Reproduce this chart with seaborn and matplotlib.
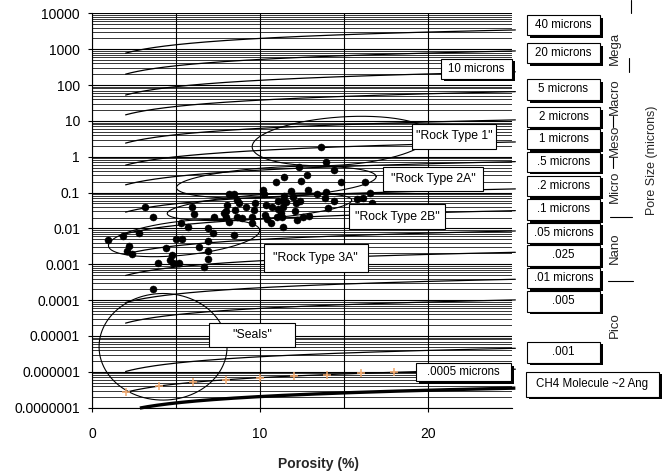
import numpy as np
import pandas as pd
import matplotlib
matplotlib.use("Agg")
import matplotlib.pyplot as plt
from matplotlib.patches import Rectangle
from matplotlib.lines import Line2D
from matplotlib.ticker import FixedLocator, FixedFormatter, LogLocator, NullFormatter
import seaborn as sns

# ---- measured samples: porosity (%) and permeability (md) ----
porosity = [0.97, 1.86, 2.82, 3.18, 3.65, 2.23, 2.07, 2.40, 4.38, 3.90,
            4.64, 4.76, 5.18, 4.84, 4.98, 5.35, 3.66, 5.30, 5.70, 5.98,
            6.09, 6.37, 6.88, 6.88, 6.67, 6.88, 6.92, 7.20, 8.47, 8.17,
            8.47, 8.65, 8.75, 8.02, 7.96, 8.51, 9.15, 9.70, 9.67, 7.28,
            7.96, 8.17, 8.65, 8.93, 9.54, 9.54, 7.88,
            12.35, 11.45, 10.93, 12.44, 10.20, 10.26, 11.83, 11.45, 11.95, 11.35,
            11.55, 11.05, 12.14, 10.36, 10.70, 11.05, 11.39, 11.25, 12.08, 10.30,
            10.40, 10.65, 10.99, 11.33, 11.35, 12.18, 12.58,
            13.63, 13.93, 14.42, 12.82, 14.80, 16.25, 12.88, 13.38, 13.91, 13.87,
            14.42, 12.38, 14.07, 15.76, 16.15, 16.55, 16.65, 12.92]
permeability = [0.00466, 0.00603, 0.00745, 0.0388, 0.0212, 0.00319, 0.00239, 0.00190, 0.00281, 0.00110,
                0.00131, 0.00181, 0.00112, 0.00108, 0.00500, 0.00500, 0.000204, 0.0146, 0.0113, 0.0388,
                0.0252, 0.00297, 0.00231, 0.00137, 0.00084, 0.00459, 0.0101, 0.00745, 0.00667, 0.0893,
                0.0893, 0.0620, 0.0521, 0.0450, 0.0312, 0.0337, 0.0388, 0.0521, 0.0337, 0.0204,
                0.0204, 0.0154, 0.0204, 0.0191, 0.0204, 0.0146, 0.0274,
                0.526, 0.266, 0.197, 0.210, 0.118, 0.0893, 0.110, 0.0817, 0.0766, 0.0593,
                0.0556, 0.0581, 0.0501, 0.0450, 0.0388, 0.0348, 0.0403, 0.0274, 0.0306, 0.0237,
                0.0179, 0.0139, 0.0204, 0.0204, 0.0111, 0.0171, 0.0204,
                1.83, 0.698, 0.426, 0.309, 0.201, 0.201, 0.118, 0.0912, 0.106, 0.0692,
                0.0593, 0.0593, 0.0378, 0.0649, 0.0692, 0.0991, 0.0521, 0.0222]

# ---- pore-throat size lines: permeability reached at 25 % porosity ----
pore_sizes = ["40", "20", "10", "5", "2", "1", ".5", ".2", ".1", ".05",
              ".025", ".01", ".005", ".001", ".0005"]
k_at_25 = [3420, 887, 232, 65.0, 10.6, 2.57, 0.726, 0.126, 0.0312, 0.00845,
           0.00215, 0.00038, 0.000101, 4.52e-6, 1.18e-6]
ch4_k_at_25 = 3.5e-7
porosity_exponent = 0.588
marker_porosity = [2, 4, 6, 8, 10, 12, 14, 16, 18]   # tagged points on the .0005 line

# ---- rock-type envelopes (centre porosity, centre permeability) ----
envelope_names = ['"Rock Type 1"', '"Rock Type 2A"', '"Rock Type 2B"', '"Rock Type 3A"', '"Seals"']
envelope_phi = [14.82, 10.97, 9.97, 5.48, 4.23]
envelope_k = [2.74, 0.195, 0.040, 0.0054, 5.0e-6]

# ---- y axis labels ----
y_ticks = [1e4, 1e3, 1e2, 1e1, 1, 1e-1, 1e-2, 1e-3, 1e-4, 1e-5, 1e-6, 1e-7]
y_tick_labels = ["10000", "1000", "100", "10", "1", "0.1", "0.01", "0.001",
                 "0.0001", "0.00001", "0.000001", "0.0000001"]
x_ticks = [0, 10, 20]

# right-hand scale boxes
scale_labels = ["40 microns", "20 microns", "5 microns", "2 microns", "1 microns",
                ".5 microns", ".2 microns", ".1 microns", ".05 microns", ".025",
                ".01 microns", ".005", ".001"]
class_labels = ["Mega", "Macro", "Meso", "Micro", "Nano", "Pico"]

sns.set_theme(style="white")
plt.rcParams["font.family"] = ["Liberation Sans", "DejaVu Sans"]

W, H = 666, 476
fig = plt.figure(figsize=(W / 100, H / 100), dpi=100)
ax_left, ax_right, ax_top, ax_bottom = 92, 512, 13.3, 407.7
ax = fig.add_axes([ax_left / W, 1 - ax_bottom / H, (ax_right - ax_left) / W, (ax_bottom - ax_top) / H])
ax.set_facecolor("white")

ax.set_yscale("log")
ax.set_xlim(0, 25)
ax.set_ylim(1e-7, 1e4)

# grid
ax.yaxis.set_major_locator(FixedLocator(y_ticks))
ax.yaxis.set_major_formatter(FixedFormatter(y_tick_labels))
ax.yaxis.set_minor_locator(LogLocator(base=10, subs=np.arange(2, 10), numticks=20))
ax.yaxis.set_minor_formatter(NullFormatter())
ax.xaxis.set_major_locator(FixedLocator(x_ticks))
ax.xaxis.set_minor_locator(FixedLocator([5, 15]))
ax.grid(True, which="major", axis="both", color="black", linewidth=0.8)
ax.grid(True, which="minor", axis="y", color="black", linewidth=0.55)
ax.grid(True, which="minor", axis="x", color="black", linewidth=0.8)
ax.set_axisbelow(True)
ax.tick_params(axis="y", which="major", direction="out", length=3.2, width=0.8, color="black",
               left=True, labelsize=10, pad=5.5, labelcolor="black")
ax.tick_params(axis="x", which="major", direction="out", length=3, width=0.8, color="black",
               bottom=True, labelsize=10, pad=11, labelcolor="black")
ax.tick_params(which="minor", length=0)
for side in ("top", "right"):
    ax.spines[side].set_visible(False)
for side in ("left", "bottom"):
    ax.spines[side].set_color("black")
    ax.spines[side].set_linewidth(0.8)

# pore-size lines
phi_line = np.linspace(2, 25.2, 200)
rows = []
for name, k25 in zip(pore_sizes, k_at_25):
    for p in phi_line:
        rows.append({"size": name, "phi": p, "k": k25 * (p / 25) ** porosity_exponent})
lines_df = pd.DataFrame(rows)
for name, grp in lines_df.groupby("size", sort=False):
    ax.plot(grp["phi"], grp["k"], color="black", lw=0.9, zorder=3, clip_on=False)

# methane line
phi_ch4 = np.linspace(2.85, 25.2, 200)
ax.plot(phi_ch4, ch4_k_at_25 * (phi_ch4 / 25) ** porosity_exponent, color="black", lw=2.4,
        zorder=3, clip_on=False, solid_capstyle="butt")

# tagged points on the .0005 micron line
k_tag = k_at_25[-1] * (np.array(marker_porosity) / 25) ** porosity_exponent
ax.scatter(marker_porosity, k_tag, marker="+", s=30, color="#F2A96E", linewidths=1.1, zorder=4)

# rock-type envelopes
px_per_phi = (ax_right - ax_left) / 25
px_per_dec = (ax_bottom - ax_top) / 11
env_a_px = [89, 100, 92.5, 76, 64]
env_b_px = [24, 15, 12, 17, 53.3]
env_tilt = [4.0, 3.2, 4.2, 6.0, 0.0]
t = np.linspace(0, 2 * np.pi, 400)
for cphi, ck, a, b, tilt in zip(envelope_phi, envelope_k, env_a_px, env_b_px, env_tilt):
    th = np.radians(tilt)
    dx = a * np.cos(t) * np.cos(th) - b * np.sin(t) * np.sin(th)
    dy = a * np.cos(t) * np.sin(th) + b * np.sin(t) * np.cos(th)
    ax.plot(cphi + dx / px_per_phi, ck * 10 ** (dy / px_per_dec), color="black", lw=0.8, zorder=3)

# samples
samples = pd.DataFrame({"Porosity": porosity, "Permeability": permeability})
sns.scatterplot(data=samples, x="Porosity", y="Permeability", ax=ax, color="black",
                s=26, edgecolor="black", linewidth=0.3, zorder=5, legend=False)
ax.set_xlabel("")
ax.set_ylabel("")

fig.text(319 / W, 1 - 464 / H, "Porosity (%)", ha="center", va="center", fontsize=10, fontweight="bold")


def fbox(x0, y0, x1, y1, text, fs, shadow=0.0, lw=0.8):
    if shadow:
        fig.add_artist(Rectangle(((x0 + shadow) / W, 1 - (y1 + shadow) / H), (x1 - x0) / W, (y1 - y0) / H,
                                 transform=fig.transFigure, facecolor="black", edgecolor="none", zorder=10))
    fig.add_artist(Rectangle((x0 / W, 1 - y1 / H), (x1 - x0) / W, (y1 - y0) / H,
                             transform=fig.transFigure, facecolor="white", edgecolor="black",
                             linewidth=lw, zorder=11))
    fig.text((x0 + x1) / 2 / W, 1 - (y0 + y1) / 2 / H, text, ha="center", va="center",
             fontsize=fs, color="black", zorder=12)


# envelope labels
env_boxes = [(412.3, 124.3, 496, 148.7), (383.3, 167.3, 483.3, 190.7), (349.3, 204.3, 445, 229),
             (264, 244.3, 367.7, 272.3), (209.3, 323.3, 295.3, 346.7)]
for name, (x0, y0, x1, y1) in zip(envelope_names, env_boxes):
    fbox(x0, y0, x1, y1, name, 8.8)

# labels placed on the plot
fbox(441, 58.7, 512, 78.5, "10 microns", 8.3, shadow=2.5)
fbox(415.7, 362.7, 511, 381, ".0005 microns", 8.3, shadow=3.0)

# right-hand scale boxes
scale_rows = [(15, 35), (43.3, 63.3), (79, 100), (107.3, 126.7), (129, 149), (151.7, 171.7),
              (175.7, 196), (199, 220), (222.7, 242.7), (245, 265.7), (268.3, 288.3),
              (291, 311.7), (341.7, 362.7)]
for lab, (y0, y1) in zip(scale_labels, scale_rows):
    fbox(527, y0, 600, y1, lab, 8.3, shadow=2.5)
fbox(526, 371.7, 659, 396.5, "CH4 Molecule ~2 Ang", 8.3, shadow=2.5)

# pore class names
class_y = [48, 97, 141, 187, 248, 325]
for lab, yy in zip(class_labels, class_y):
    fig.text(615 / W, 1 - yy / H, lab, rotation=90, ha="center", va="center", fontsize=9.5)
seps = [((630.5, 630.5), (0, 13)), ((629, 629), (58, 72)), ((613, 613), (116, 127)),
        ((613, 613), (157, 168)), ((610, 632), (216.7, 216.7)), ((608, 633), (280.7, 280.7))]
for xs, ys in seps:
    fig.add_artist(Line2D([x / W for x in xs], [1 - y / H for y in ys], color="black", lw=0.8,
                          transform=fig.transFigure))
fig.text(651.7 / W, 1 - 160 / H, "Pore Size (microns)", rotation=90, ha="center", va="center", fontsize=8.9)

fig.savefig("out.png", dpi=100)
